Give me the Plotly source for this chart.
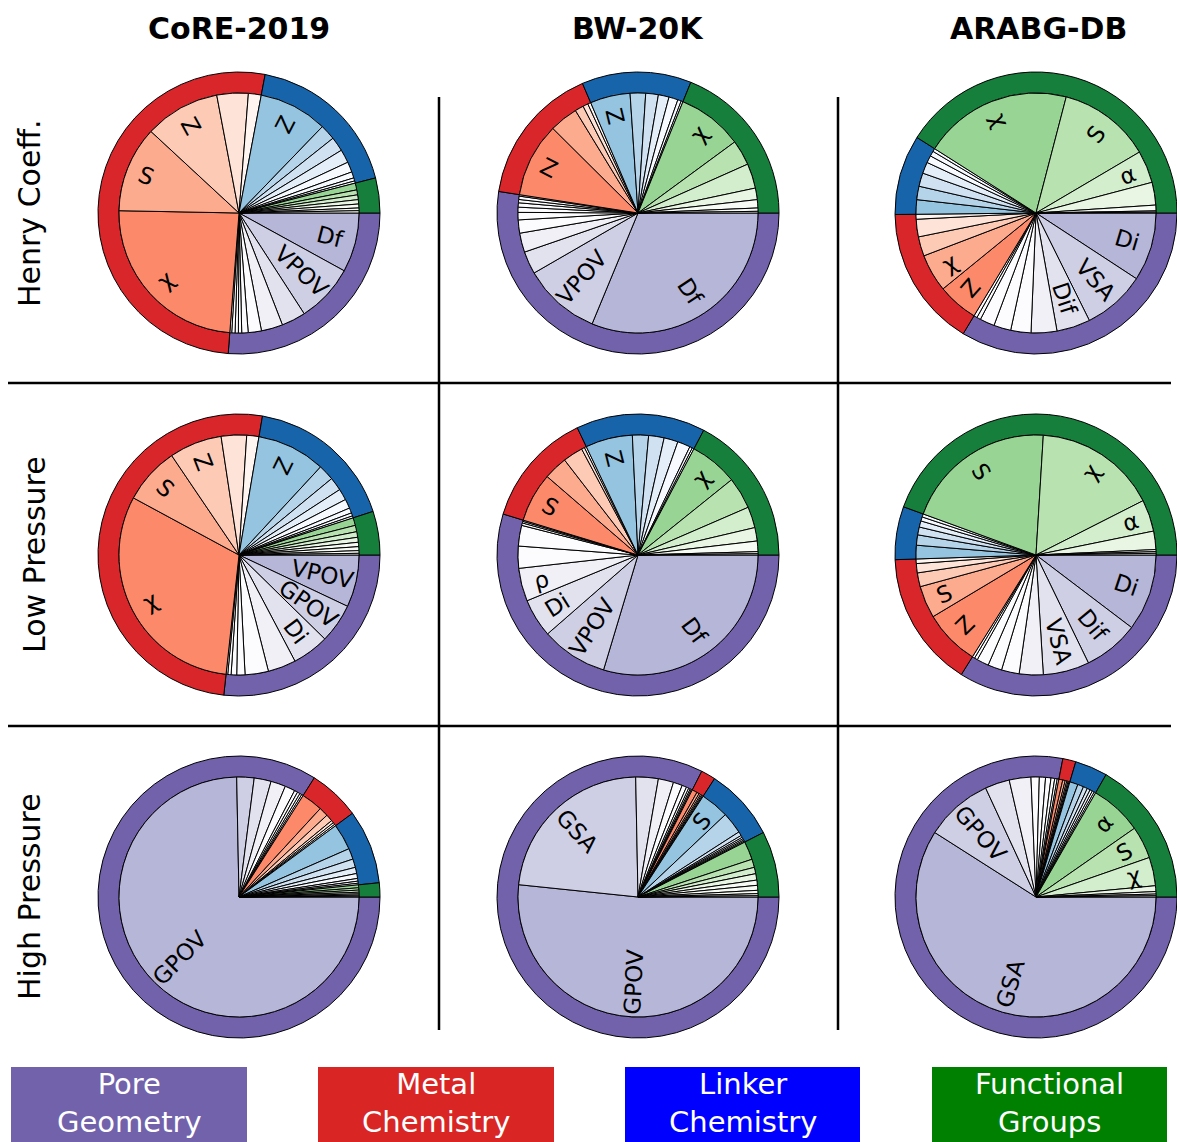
import numpy as np
import plotly.graph_objects as go
from plotly.colors import sample_colorscale, sequential

# ---------------------------------------------------------------------------
# Feature importances (relative units). Within each chemistry group the
# features are listed from smallest to largest; the *_lab lists name the
# largest features (aligned to the end of the matching value list).
# ---------------------------------------------------------------------------
datasets = ["CoRE-2019", "BW-20K", "ARABG-DB"]
conditions = ["Henry Coeff.", "Low Pressure", "High Pressure"]
group_names = ["Functional<br>Groups", "Linker<br>Chemistry", "Metal<br>Chemistry", "Pore<br>Geometry"]

# CoRE-2019, Henry coefficient
core_henry_func = [1.1, 1.3, 1.9, 2.1, 2.3, 2.4, 3.3]
core_henry_func_lab = []
core_henry_link = [1.1, 1.5, 3.0, 5.0, 6.5, 7.0, 7.5, 33.3]
core_henry_link_lab = ["Z"]
core_henry_metal = [6.2, 15.2, 36.5, 41.7, 86.7]
core_henry_metal_lab = ["Z", "S", "χ"]
core_henry_pore = [0.9, 1.6, 1.6, 1.6, 3.1, 6.4, 10.4, 11.7, 28.3, 28.8]
core_henry_pore_lab = ["VPOV", "Df"]

# BW-20K, Henry coefficient
bw_henry_func = [0.8, 1.6, 4.0, 5.6, 12.0, 12.3, 31.7]
bw_henry_func_lab = ["χ"]
bw_henry_link = [0.9, 1.7, 4.4, 5.2, 6.1, 7.5, 19.4]
bw_henry_link_lab = ["Z"]
bw_henry_metal = [1.5, 2.5, 4.2, 13.8, 36.0]
bw_henry_metal_lab = ["Z"]
bw_henry_pore = [0.7, 1.6, 1.6, 2.1, 2.5, 3.6, 6.4, 9.3, 11.0, 37.5, 112.5]
bw_henry_pore_lab = ["VPOV", "Df"]

# ARABG-DB, Henry coefficient
arabg_henry_func = [0.4, 0.6, 2.8, 11.0, 15.7, 44.9, 72.2]
arabg_henry_func_lab = ["α", "S", "χ"]
arabg_henry_link = [1.5, 2.5, 3.5, 5.5, 6.5, 6.5, 7.0]
arabg_henry_link_lab = []
arabg_henry_metal = [2.4, 8.5, 9.4, 18.3, 19.7]
arabg_henry_metal_lab = ["χ", "Z"]
arabg_henry_pore = [1.6, 1.9, 7.1, 8.3, 9.8, 12.5, 16.3, 30.4, 33.2]
arabg_henry_pore_lab = ["Dif", "VSA", "Di"]

# CoRE-2019, low pressure
core_low_func = [0.8, 1.3, 1.9, 2.1, 2.4, 2.7, 3.1, 3.7]
core_low_func_lab = []
core_low_link = [1.0, 1.5, 2.5, 4.5, 5.5, 6.5, 7.7, 33.2]
core_low_link_lab = ["Z"]
core_low_metal = [5.9, 12.3, 25.5, 27.5, 112.2]
core_low_metal_lab = ["Z", "S", "χ"]
core_low_pore = [0.8, 1.6, 2.7, 4.0, 11.3, 13.6, 17.8, 19.1, 25.3]
core_low_pore_lab = ["Di", "GPOV", "VPOV"]

# BW-20K, low pressure
bw_low_func = [0.6, 1.0, 5.1, 6.5, 10.2, 15.4, 23.4]
bw_low_func_lab = ["χ"]
bw_low_link = [0.9, 1.3, 6.2, 6.8, 7.5, 7.8, 22.8]
bw_low_link_lab = ["Z"]
bw_low_metal = [1.0, 1.5, 9.7, 11.5, 23.9]
bw_low_metal_lab = ["S"]
bw_low_pore = [0.6, 0.8, 1.2, 10.0, 10.7, 16.0, 18.7, 32.2, 106.7]
bw_low_pore_lab = ["ρ", "Di", "VPOV", "Df"]

# ARABG-DB, low pressure
arabg_low_func = [0.8, 0.8, 1.0, 8.9, 15.4, 59.6, 73.5]
arabg_low_func_lab = ["α", "χ", "S"]
arabg_low_link = [1.5, 2.0, 3.0, 3.8, 5.0, 6.6]
arabg_low_link_lab = []
arabg_low_metal = [2.2, 4.5, 6.7, 15.6, 27.1]
arabg_low_metal_lab = ["S", "Z"]
arabg_low_pore = [1.2, 1.5, 5.8, 6.8, 8.6, 11.6, 22.4, 26.9, 37.2]
arabg_low_pore_lab = ["VSA", "Dif", "Di"]

# CoRE-2019, high pressure
core_high_func = [0.4, 0.5, 0.6, 0.8, 1.0, 1.1, 1.4]
core_high_func_lab = []
core_high_link = [0.8, 1.0, 1.3, 2.4, 3.0, 4.1, 5.3, 12.7]
core_high_link_lab = []
core_high_metal = [0.8, 1.0, 1.3, 3.4, 4.5, 10.3]
core_high_metal_lab = []
core_high_pore = [0.8, 1.0, 1.3, 1.6, 4.9, 7.2, 8.2, 8.4, 268.9]
core_high_pore_lab = ["GPOV"]

# BW-20K, high pressure
bw_high_func = [0.6, 1.0, 1.6, 2.4, 2.5, 3.1, 3.1, 4.0, 8.9]
bw_high_func_lab = []
bw_high_link = [0.5, 0.6, 0.7, 0.8, 1.0, 2.0, 10.5, 13.8]
bw_high_link_lab = ["S"]
bw_high_metal = [0.4, 0.5, 0.6, 0.8, 1.2, 2.5]
bw_high_metal_lab = []
bw_high_pore = [0.5, 0.6, 0.8, 1.2, 2.2, 4.4, 7.4, 10.9, 83.0, 185.9]
bw_high_pore_lab = ["GSA", "GPOV"]

# ARABG-DB, high pressure
arabg_high_func = [0.6, 0.8, 1.2, 2.8, 13.8, 15.7, 25.3]
arabg_high_func_lab = ["χ", "S", "α"]
arabg_high_link = [0.8, 1.0, 1.2, 1.5, 2.0, 2.9, 4.0]
arabg_high_link_lab = []
arabg_high_metal = [0.4, 0.5, 0.6, 0.8, 1.2, 1.9]
arabg_high_metal_lab = []
arabg_high_pore = [0.8, 1.2, 1.8, 2.6, 3.0, 4.0, 10.5, 11.9, 32.7, 212.5]
arabg_high_pore_lab = ["GPOV", "GSA"]

# groups run counterclockwise from 3 o'clock in this order
panels = [
    [
        [(core_henry_func, core_henry_func_lab), (core_henry_link, core_henry_link_lab),
         (core_henry_metal, core_henry_metal_lab), (core_henry_pore, core_henry_pore_lab)],
        [(bw_henry_func, bw_henry_func_lab), (bw_henry_link, bw_henry_link_lab),
         (bw_henry_metal, bw_henry_metal_lab), (bw_henry_pore, bw_henry_pore_lab)],
        [(arabg_henry_func, arabg_henry_func_lab), (arabg_henry_link, arabg_henry_link_lab),
         (arabg_henry_metal, arabg_henry_metal_lab), (arabg_henry_pore, arabg_henry_pore_lab)],
    ],
    [
        [(core_low_func, core_low_func_lab), (core_low_link, core_low_link_lab),
         (core_low_metal, core_low_metal_lab), (core_low_pore, core_low_pore_lab)],
        [(bw_low_func, bw_low_func_lab), (bw_low_link, bw_low_link_lab),
         (bw_low_metal, bw_low_metal_lab), (bw_low_pore, bw_low_pore_lab)],
        [(arabg_low_func, arabg_low_func_lab), (arabg_low_link, arabg_low_link_lab),
         (arabg_low_metal, arabg_low_metal_lab), (arabg_low_pore, arabg_low_pore_lab)],
    ],
    [
        [(core_high_func, core_high_func_lab), (core_high_link, core_high_link_lab),
         (core_high_metal, core_high_metal_lab), (core_high_pore, core_high_pore_lab)],
        [(bw_high_func, bw_high_func_lab), (bw_high_link, bw_high_link_lab),
         (bw_high_metal, bw_high_metal_lab), (bw_high_pore, bw_high_pore_lab)],
        [(arabg_high_func, arabg_high_func_lab), (arabg_high_link, arabg_high_link_lab),
         (arabg_high_metal, arabg_high_metal_lab), (arabg_high_pore, arabg_high_pore_lab)],
    ],
]

# ---------------------------------------------------------------------------
# Styling / layout
# ---------------------------------------------------------------------------
FIG_W, FIG_H = 1177, 1142
COL_X = [239, 638, 1036]
TITLE_X = [239, 638, 1038.5]
ROW_Y = [213, 555, 897]
R_OUT, R_IN = 141, 120
LABEL_SIZE = 23
FONT = "DejaVu Sans"

ring_colors = ["#167f3b", "#1764ab", "#d8262a", "#7262ac"]
group_scales = [sequential.Greens, sequential.Blues, sequential.Reds, sequential.Purples]
legend_colors = ["#7262ac", "#d92624", "#0000ff", "#008000"]
legend_order = [3, 2, 1, 0]
legend_x = [(11, 247), (318, 554), (625, 860), (932, 1167)]


def shades(scale, n):
    # largest feature gets the strongest tint, smaller ones fade to white
    pos = [max(0.0, 0.4 - 0.1 * (n - 1 - i)) for i in range(n)]
    return sample_colorscale(scale, pos)


def domain(cx, cy, r):
    return dict(x=[max(0.0, (cx - r) / FIG_W), min(1.0, (cx + r) / FIG_W)],
                y=[max(0.0, 1 - (cy + r) / FIG_H), min(1.0, 1 - (cy - r) / FIG_H)])


fig = go.Figure()
annotations = []

for row in range(3):
    for col in range(3):
        cx, cy = COL_X[col], ROW_Y[row]
        groups = panels[row][col]

        totals = [sum(vals) for vals, _ in groups]
        values, colors, texts = [], [], []
        for g, (vals, labs) in enumerate(groups):
            values += list(vals)
            colors += shades(group_scales[g], len(vals))
            texts += [""] * (len(vals) - len(labs)) + list(labs)

        # Plotly starts the first slice exactly at `rotation` only when
        # going clockwise, so the counterclockwise order is fed reversed.
        ring_names = [n.replace("<br>", " ") for n in group_names]
        fig.add_trace(go.Pie(
            values=totals[::-1], labels=ring_names[::-1],
            hole=R_IN / R_OUT, sort=False, direction="clockwise", rotation=90,
            marker=dict(colors=ring_colors[::-1], line=dict(color="black", width=1)),
            textinfo="none", hoverinfo="label+percent", showlegend=False,
            domain=domain(cx, cy, R_OUT),
        ))
        fig.add_trace(go.Pie(
            values=values[::-1], text=texts[::-1], sort=False,
            direction="clockwise", rotation=90,
            marker=dict(colors=colors[::-1], line=dict(color="black", width=1)),
            textinfo="none", hoverinfo="text+percent", showlegend=False,
            domain=domain(cx, cy, R_IN),
        ))

        # radial feature labels at the middle angle of their slice;
        # longer names sit a little closer to the centre
        total = sum(values)
        cum = 0.0
        for v, lab in zip(values, texts):
            if lab:
                mid = (cum + v / 2) / total * 360.0
                t = np.radians(mid)
                r_lab = 0.87 * R_IN - 0.21 * LABEL_SIZE * len(lab)
                px = cx + r_lab * np.cos(t)
                py = cy - r_lab * np.sin(t)
                rot = mid if np.cos(t) >= 0 else mid - 180
                if rot > 180:
                    rot -= 360
                annotations.append(dict(
                    x=px / FIG_W, y=1 - py / FIG_H, xref="paper", yref="paper",
                    text=lab, showarrow=False, textangle=-rot,
                    xanchor="center", yanchor="middle",
                    font=dict(family=FONT, size=LABEL_SIZE, color="black"),
                ))
            cum += v

# column titles
for col, name in enumerate(datasets):
    annotations.append(dict(
        x=TITLE_X[col] / FIG_W, y=1 - 28 / FIG_H, xref="paper", yref="paper",
        text=f"<b>{name}</b>", showarrow=False, xanchor="center", yanchor="middle",
        font=dict(family=FONT, size=30, color="black"),
    ))

# row titles
row_label_x = [29, 35, 29]
for row, name in enumerate(conditions):
    annotations.append(dict(
        x=row_label_x[row] / FIG_W, y=1 - ROW_Y[row] / FIG_H, xref="paper", yref="paper",
        text=name, showarrow=False, textangle=-90, xanchor="center", yanchor="middle",
        font=dict(family=FONT, size=30, color="black"),
    ))

shapes = []
# grid separating the panels
for x in (439, 838):
    shapes.append(dict(type="line", xref="paper", yref="paper",
                       x0=x / FIG_W, x1=x / FIG_W, y0=1 - 97 / FIG_H, y1=1 - 1030 / FIG_H,
                       line=dict(color="black", width=2.5)))
for y in (383, 726):
    shapes.append(dict(type="line", xref="paper", yref="paper",
                       x0=8 / FIG_W, x1=1171 / FIG_W, y0=1 - y / FIG_H, y1=1 - y / FIG_H,
                       line=dict(color="black", width=2.5)))

# group legend boxes
for k, gi in enumerate(legend_order):
    x0, x1 = legend_x[k]
    shapes.append(dict(type="rect", xref="paper", yref="paper",
                       x0=x0 / FIG_W, x1=x1 / FIG_W, y0=0, y1=1 - 1067 / FIG_H,
                       fillcolor=legend_colors[k], line=dict(width=0), layer="above"))
    annotations.append(dict(
        x=(x0 + x1) / 2 / FIG_W, y=1 - 1103 / FIG_H, xref="paper", yref="paper",
        text=group_names[gi], showarrow=False, xanchor="center", yanchor="middle",
        font=dict(family=FONT, size=29, color="white"),
    ))

fig.update_layout(
    width=FIG_W, height=FIG_H, autosize=False,
    margin=dict(l=0, r=0, t=0, b=0),
    paper_bgcolor="white", plot_bgcolor="white",
    annotations=annotations, shapes=shapes,
)

fig.write_html("out.html")
